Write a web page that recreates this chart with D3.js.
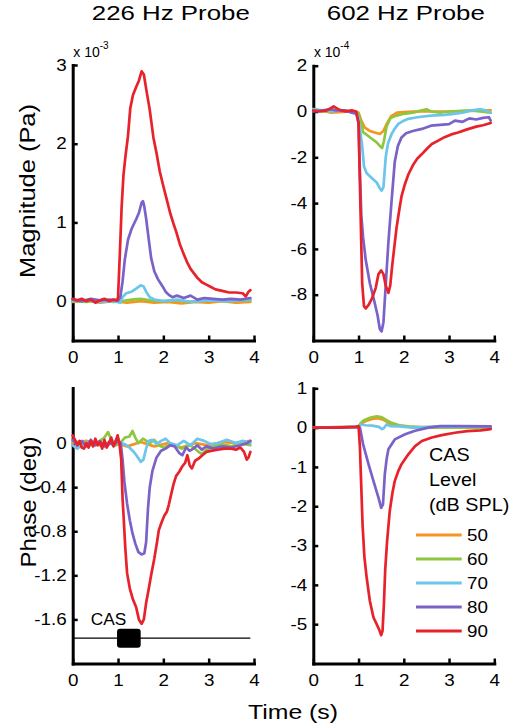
<!DOCTYPE html>
<html><head><meta charset="utf-8">
<script src="https://cdn.jsdelivr.net/npm/d3@7"></script>
<style>
html,body{margin:0;padding:0;background:#fff;}
svg{display:block;font-family:"Liberation Sans",Arial,Helvetica,sans-serif;}
</style></head>
<body>
<svg id="chart" width="511" height="725"></svg>
<script>
// ---------------- DATA ----------------
const levels = ["50", "60", "70", "80", "90"];
const levelColors = ["#f7941d", "#8dc63f", "#6cc5ea", "#7b62c9", "#e8222b"];
const panelTitles = ["226 Hz Probe", "602 Hz Probe"];
const xTicks = [0, 1, 2, 3, 4];
const magTicks226 = [0, 1, 2, 3];
const magTicks602 = [2, 0, -2, -4, -6, -8];
const phaseTicks226 = [0, -0.4, -0.8, -1.2, -1.6];
const phaseTicks602 = [1, 0, -1, -2, -3, -4, -5];
const casStim = [1.0, 1.5]; // CAS on/off time (s)

// 226 Hz magnitude (x 10^-3 Pa), [time, value]
const mag226_50 = [[0,-0.01],[0.3,0.01],[0.6,-0.02],[0.9,0.0],[1.2,-0.02],[1.5,0.0],[1.8,-0.02],[2.1,-0.01],[2.4,-0.03],[2.7,-0.01],[3.0,-0.02],[3.3,0.0],[3.6,-0.02],[3.92,-0.01]];
const mag226_60 = [[0,0.0],[0.3,-0.01],[0.6,0.01],[0.9,-0.01],[1.1,0.0],[1.3,0.02],[1.5,0.03],[1.7,0.01],[2.0,0.0],[2.3,0.01],[2.6,-0.01],[3.0,0.01],[3.4,0.0],[3.92,0.01]];
const mag226_70 = [[0,0.0],[0.3,0.01],[0.6,-0.01],[0.9,0.0],[1.05,-0.02],[1.1,0.05],[1.18,0.1],[1.3,0.12],[1.4,0.16],[1.5,0.2],[1.56,0.19],[1.62,0.12],[1.7,0.05],[1.8,0.02],[2.0,0.0],[2.3,0.02],[2.6,-0.01],[3.0,0.01],[3.4,0.0],[3.92,0.02]];
const mag226_80 = [[0,0.02],[0.2,0.0],[0.4,0.03],[0.6,0.01],[0.8,0.02],[1.0,0.01],[1.05,0.05],[1.1,0.25],[1.15,0.53],[1.22,0.78],[1.3,0.92],[1.4,1.04],[1.46,1.12],[1.52,1.25],[1.55,1.27],[1.58,1.2],[1.62,1.05],[1.67,0.82],[1.73,0.55],[1.8,0.38],[1.88,0.28],[1.98,0.19],[2.05,0.12],[2.12,0.08],[2.2,0.05],[2.3,0.07],[2.45,0.04],[2.6,0.07],[2.75,0.02],[2.9,0.04],[3.1,0.03],[3.3,0.02],[3.5,0.03],[3.7,0.02],[3.92,0.04]];
const mag226_90 = [[0,0.03],[0.1,0.01],[0.2,0.03],[0.3,0.0],[0.4,0.02],[0.5,-0.02],[0.6,0.01],[0.7,0.03],[0.8,0.0],[0.9,0.02],[0.98,0.01],[1.0,0.05],[1.04,0.6],[1.08,1.2],[1.12,1.6],[1.16,1.82],[1.22,2.1],[1.27,2.45],[1.33,2.62],[1.4,2.72],[1.46,2.8],[1.52,2.92],[1.57,2.88],[1.62,2.7],[1.7,2.43],[1.78,2.08],[1.85,1.88],[1.92,1.65],[2.0,1.46],[2.08,1.28],[2.15,1.12],[2.22,0.99],[2.29,0.87],[2.36,0.73],[2.44,0.61],[2.52,0.5],[2.6,0.41],[2.68,0.35],[2.76,0.29],[2.85,0.24],[2.95,0.21],[3.05,0.18],[3.15,0.15],[3.3,0.13],[3.45,0.11],[3.6,0.11],[3.75,0.1],[3.82,0.06],[3.88,0.12],[3.92,0.14]];

// 602 Hz magnitude (x 10^-4 Pa)
const mag602_50 = [[0,0.1],[0.4,-0.05],[0.8,0.0],[1.0,-0.05],[1.06,-0.4],[1.14,-0.7],[1.25,-0.85],[1.36,-0.92],[1.47,-0.98],[1.55,-0.85],[1.62,-0.55],[1.72,-0.2],[1.85,-0.05],[2.2,0.0],[3.0,0.0],[3.92,0.05]];
const mag602_60 = [[0,0.05],[0.3,0.0],[0.6,0.05],[0.9,0.0],[1.0,-0.1],[1.05,-0.4],[1.1,-0.9],[1.2,-1.05],[1.3,-1.2],[1.4,-1.35],[1.47,-1.5],[1.52,-1.6],[1.56,-1.3],[1.62,-0.65],[1.7,-0.3],[1.8,-0.2],[2.0,-0.1],[2.2,-0.05],[2.4,0.05],[2.5,0.1],[2.6,0.0],[2.8,-0.05],[3.0,0.0],[3.5,0.05],[3.92,-0.05]];
const mag602_70 = [[0,0.1],[0.2,0.05],[0.4,0.0],[0.6,0.05],[0.8,0.0],[0.95,-0.05],[1.0,-0.3],[1.04,-0.9],[1.08,-1.5],[1.12,-2.4],[1.18,-2.7],[1.28,-2.88],[1.4,-3.1],[1.47,-3.35],[1.51,-3.46],[1.55,-3.3],[1.6,-2.0],[1.65,-1.4],[1.73,-0.98],[1.8,-0.75],[1.88,-0.54],[2.0,-0.4],[2.1,-0.32],[2.3,-0.25],[2.6,-0.18],[2.9,-0.15],[3.1,-0.1],[3.3,-0.05],[3.5,0.05],[3.7,0.1],[3.8,0.05],[3.92,-0.05]];
const mag602_80 = [[0,0.0],[0.2,0.05],[0.4,0.1],[0.5,0.05],[0.7,0.05],[0.85,-0.05],[0.95,-0.1],[1.0,-0.5],[1.02,-2.0],[1.06,-4.5],[1.1,-5.5],[1.16,-6.5],[1.25,-7.5],[1.35,-8.3],[1.42,-8.9],[1.47,-9.5],[1.51,-9.6],[1.55,-9.2],[1.6,-7.6],[1.66,-5.7],[1.73,-3.9],[1.8,-2.2],[1.87,-1.5],[1.95,-1.13],[2.05,-0.95],[2.2,-0.85],[2.4,-0.76],[2.6,-0.62],[2.8,-0.58],[3.0,-0.55],[3.13,-0.4],[3.3,-0.45],[3.45,-0.3],[3.6,-0.35],[3.75,-0.28],[3.88,-0.25],[3.92,-0.4]];
const mag602_90 = [[0,0.05],[0.15,0.0],[0.3,0.05],[0.45,0.22],[0.55,0.1],[0.7,0.0],[0.85,0.05],[0.95,0.0],[1.0,-0.5],[1.04,-4.0],[1.08,-7.5],[1.12,-8.5],[1.16,-8.6],[1.22,-8.45],[1.3,-8.15],[1.38,-7.7],[1.44,-7.1],[1.5,-6.94],[1.55,-7.1],[1.6,-7.6],[1.66,-7.92],[1.7,-7.6],[1.74,-6.8],[1.78,-6.1],[1.84,-5.07],[1.9,-4.3],[1.95,-3.7],[2.02,-3.2],[2.1,-2.75],[2.2,-2.35],[2.3,-2.05],[2.4,-1.86],[2.5,-1.65],[2.62,-1.42],[2.75,-1.28],[2.9,-1.12],[3.05,-1.0],[3.2,-0.92],[3.4,-0.78],[3.6,-0.66],[3.75,-0.6],[3.92,-0.5]];

// 226 Hz phase (deg)
const ph226_50 = [[0,0.0],[0.3,0.02],[0.6,-0.02],[0.9,0.01],[1.2,-0.03],[1.5,0.01],[1.8,-0.03],[2.1,0.0],[2.4,-0.04],[2.7,0.0],[3.0,-0.02],[3.3,0.01],[3.6,0.0],[3.92,0.02]];
const ph226_60 = [[0,0.02],[0.2,0.0],[0.4,-0.02],[0.6,0.02],[0.7,0.05],[0.78,0.1],[0.85,0.03],[0.95,-0.02],[1.05,0.0],[1.15,0.05],[1.25,0.06],[1.32,0.11],[1.38,0.05],[1.45,0.0],[1.55,0.04],[1.7,0.0],[1.8,0.03],[1.9,-0.02],[2.0,-0.04],[2.2,-0.01],[2.4,-0.05],[2.6,-0.02],[2.75,-0.07],[2.85,-0.1],[2.95,-0.06],[3.1,-0.03],[3.3,-0.01],[3.5,-0.03],[3.7,0.0],[3.92,-0.02]];
const ph226_70 = [[0,-0.02],[0.1,-0.05],[0.2,-0.02],[0.3,0.01],[0.45,-0.02],[0.6,0.0],[0.75,-0.03],[0.9,0.02],[1.0,0.0],[1.15,-0.01],[1.25,-0.04],[1.35,-0.08],[1.42,-0.12],[1.5,-0.17],[1.56,-0.15],[1.62,-0.05],[1.68,0.02],[1.76,0.03],[1.85,-0.01],[1.95,0.02],[2.05,0.04],[2.15,0.0],[2.3,-0.02],[2.45,0.02],[2.6,-0.02],[2.75,0.04],[2.9,0.02],[3.05,-0.01],[3.2,0.0],[3.4,0.03],[3.6,0.0],[3.75,0.02],[3.92,0.0]];
const ph226_80 = [[0,0.03],[0.1,-0.02],[0.2,0.02],[0.3,-0.03],[0.4,0.03],[0.5,-0.02],[0.6,0.02],[0.7,-0.03],[0.8,0.01],[0.9,-0.02],[1.0,0.02],[1.06,0.0],[1.1,-0.15],[1.14,-0.35],[1.2,-0.55],[1.26,-0.7],[1.32,-0.82],[1.38,-0.91],[1.45,-0.99],[1.52,-1.01],[1.58,-1.0],[1.62,-0.9],[1.66,-0.6],[1.7,-0.4],[1.76,-0.25],[1.85,-0.13],[1.95,-0.07],[2.05,-0.05],[2.15,-0.02],[2.25,-0.03],[2.35,-0.09],[2.42,-0.11],[2.5,-0.04],[2.58,-0.07],[2.66,-0.05],[2.75,-0.02],[2.85,-0.06],[2.95,-0.03],[3.1,-0.05],[3.3,-0.03],[3.5,-0.04],[3.7,-0.02],[3.85,0.0],[3.92,0.02]];
const ph226_90 = [[0,0.07],[0.05,0.03],[0.1,-0.02],[0.15,0.02],[0.2,-0.04],[0.25,-0.05],[0.3,0.0],[0.35,-0.04],[0.4,0.02],[0.45,-0.03],[0.5,0.04],[0.55,-0.02],[0.6,0.01],[0.65,-0.05],[0.7,0.03],[0.75,-0.04],[0.8,0.0],[0.85,0.05],[0.9,-0.03],[0.95,0.02],[0.99,0.07],[1.03,0.0],[1.07,-0.15],[1.1,-0.5],[1.13,-0.72],[1.16,-0.95],[1.2,-1.18],[1.26,-1.32],[1.33,-1.42],[1.4,-1.49],[1.46,-1.6],[1.52,-1.64],[1.57,-1.6],[1.62,-1.45],[1.67,-1.34],[1.73,-1.2],[1.8,-1.05],[1.86,-0.9],[1.9,-0.79],[1.96,-0.72],[2.02,-0.66],[2.08,-0.62],[2.12,-0.56],[2.17,-0.47],[2.22,-0.38],[2.28,-0.3],[2.35,-0.26],[2.42,-0.21],[2.48,-0.18],[2.53,-0.11],[2.58,-0.2],[2.63,-0.23],[2.7,-0.16],[2.78,-0.14],[2.86,-0.11],[2.95,-0.08],[3.05,-0.07],[3.2,-0.06],[3.35,-0.05],[3.5,-0.05],[3.6,-0.06],[3.7,-0.04],[3.78,-0.08],[3.84,-0.15],[3.88,-0.13],[3.92,-0.08]];

// 602 Hz phase (deg)
const ph602_50 = [[0,0],[1.0,0.02],[1.06,0.1],[1.15,0.16],[1.3,0.22],[1.42,0.24],[1.55,0.2],[1.7,0.1],[1.9,0.05],[2.2,0.01],[3.92,0.0]];
const ph602_60 = [[0,0],[1.0,0.02],[1.05,0.12],[1.12,0.19],[1.25,0.25],[1.4,0.29],[1.5,0.27],[1.6,0.2],[1.73,0.12],[1.9,0.06],[2.1,0.03],[2.5,0.0],[3.92,0.0]];
const ph602_70 = [[0,0],[1.0,0.02],[1.05,0.08],[1.15,0.06],[1.3,0.05],[1.45,0.02],[1.52,-0.04],[1.56,-0.01],[1.62,0.08],[1.7,0.04],[1.9,0.03],[2.2,0.0],[2.8,0.03],[3.92,0.02]];
const ph602_80 = [[0,0],[0.5,0],[1.0,0.02],[1.03,0],[1.1,-0.42],[1.22,-0.93],[1.33,-1.36],[1.44,-1.78],[1.5,-2.04],[1.54,-1.95],[1.58,-1.19],[1.62,-0.8],[1.66,-0.55],[1.8,-0.3],[2.03,-0.17],[2.25,-0.08],[2.54,0.0],[2.8,0.04],[3.2,0.04],[3.92,0.03]];
const ph602_90 = [[0,0],[0.5,0],[0.95,0.02],[1.0,0.04],[1.03,-0.5],[1.06,-1.5],[1.09,-2.5],[1.13,-3.3],[1.18,-3.82],[1.25,-4.41],[1.33,-4.83],[1.4,-5.0],[1.46,-5.15],[1.5,-5.28],[1.53,-5.17],[1.56,-4.5],[1.59,-3.6],[1.63,-2.9],[1.69,-2.12],[1.75,-1.65],[1.8,-1.36],[1.88,-1.1],[1.95,-0.93],[2.1,-0.68],[2.25,-0.47],[2.4,-0.34],[2.62,-0.25],[2.84,-0.19],[3.13,-0.13],[3.4,-0.09],[3.7,-0.07],[3.92,-0.04]];

// ---------------- DRAWING ----------------
const svg = d3.select("#chart");
const FONT = '"Liberation Sans",Arial,Helvetica,sans-serif';

function stretch(sel, f) {
  sel.each(function () {
    const w = this.getComputedTextLength();
    d3.select(this).attr("textLength", w * f).attr("lengthAdjust", "spacingAndGlyphs");
  });
}

const panels = [
  { left: 72.7, right: 254, top: 65, bottom: 340.5, domain: [-0.5, 3], ticks: magTicks226,
    series: [mag226_50, mag226_60, mag226_70, mag226_80, mag226_90], exp: "-3" },
  { left: 313.3, right: 494.3, top: 65.7, bottom: 340.5, domain: [-10, 2], ticks: magTicks602,
    series: [mag602_50, mag602_60, mag602_70, mag602_80, mag602_90], exp: "-4" },
  { left: 72.7, right: 254, top: 388, bottom: 663.5, domain: [-2, 0.5], ticks: phaseTicks226,
    series: [ph226_50, ph226_60, ph226_70, ph226_80, ph226_90], cas: true },
  { left: 313.3, right: 494.3, top: 388.3, bottom: 663.5, domain: [-6, 1], ticks: phaseTicks602,
    series: [ph602_50, ph602_60, ph602_70, ph602_80, ph602_90], legend: true }
];

panels.forEach(p => {
  const x = d3.scaleLinear().domain([0, 4]).range([p.left, p.right]);
  const y = d3.scaleLinear().domain(p.domain).range([p.bottom, p.top]);
  const g = svg.append("g");

  const xa = g.append("g").attr("transform", `translate(0,${p.bottom})`)
    .call(d3.axisBottom(x).tickValues(xTicks).tickSizeInner(-5).tickSizeOuter(0).tickPadding(11).tickFormat(d => String(d)));
  const ya = g.append("g").attr("transform", `translate(${p.left},0)`)
    .call(d3.axisLeft(y).tickValues(p.ticks).tickSizeInner(-5).tickSizeOuter(0).tickPadding(6).tickFormat(d => String(d)));

  [xa, ya].forEach(a => {
    a.select(".domain").attr("stroke", "#000").attr("stroke-width", 3).attr("stroke-linecap", "square");
    a.selectAll(".tick line").attr("stroke", "#000").attr("stroke-width", 2.5);
    a.selectAll(".tick text").attr("font-family", FONT).attr("font-size", 16.5).attr("fill", "#000");
    stretch(a.selectAll(".tick text"), 1.14);
  });

  const line = d3.line().x(d => x(d[0])).y(d => y(d[1]));
  p.series.forEach((s, i) => {
    g.append("path").datum(s).attr("d", line)
      .attr("fill", "none").attr("stroke", levelColors[i]).attr("stroke-width", 2.7)
      .attr("stroke-linejoin", "round").attr("stroke-linecap", "round");
  });

  if (p.exp) {
    const t = g.append("text").attr("x", p.left + 0.6).attr("y", 56.7)
      .attr("font-family", FONT).attr("font-size", 14).attr("fill", "#000");
    t.append("tspan").text("x 10");
    t.append("tspan").attr("font-size", 10).attr("dy", -8).text(p.exp);
  }

  if (p.cas) {
    const yc = y(-1.77);
    g.append("line").attr("x1", x(0)).attr("x2", x(3.92)).attr("y1", yc).attr("y2", yc)
      .attr("stroke", "#000").attr("stroke-width", 1.3);
    g.append("rect").attr("x", x(casStim[0]) - 1).attr("width", x(casStim[1]) - x(casStim[0]) + 1)
      .attr("y", yc - 9.5).attr("height", 19).attr("rx", 3).attr("fill", "#000");
    const ct = g.append("text").attr("x", 90.7).attr("y", 625).attr("font-family", FONT)
      .attr("font-size", 16).attr("fill", "#000").text("CAS");
    stretch(ct, 1.08);
  }

  if (p.legend) {
    const lx0 = 416, lx1 = 461.7;
    ["CAS", "Level", "(dB SPL)"].forEach((s, i) => {
      const t = g.append("text").attr("x", 429).attr("y", 460.7 + i * 25)
        .attr("font-family", FONT).attr("font-size", 17.5).attr("fill", "#000").text(s);
      stretch(t, 1.13);
    });
    levels.forEach((lv, i) => {
      const ly = 535 + i * 24;
      g.append("line").attr("x1", lx0).attr("x2", lx1).attr("y1", ly).attr("y2", ly)
        .attr("stroke", levelColors[i]).attr("stroke-width", 2.8);
      const t = g.append("text").attr("x", 467).attr("y", ly + 6.3)
        .attr("font-family", FONT).attr("font-size", 16.5).attr("fill", "#000").text(lv);
      stretch(t, 1.14);
    });
  }
});

const titleX = [170.8, 405.8];
panelTitles.forEach((s, i) => {
  svg.append("text").attr("x", titleX[i]).attr("y", 19.5).attr("text-anchor", "middle")
    .attr("font-family", FONT).attr("font-size", 20).attr("fill", "#000")
    .attr("textLength", 158).attr("lengthAdjust", "spacingAndGlyphs").text(s);
});

svg.append("text").attr("transform", "translate(34.5,191) rotate(-90)").attr("text-anchor", "middle")
  .attr("font-family", FONT).attr("font-size", 22.5).attr("fill", "#000")
  .attr("textLength", 174).attr("lengthAdjust", "spacingAndGlyphs").text("Magnitude (Pa)");
svg.append("text").attr("transform", "translate(36,502) rotate(-90)").attr("text-anchor", "middle")
  .attr("font-family", FONT).attr("font-size", 22).attr("fill", "#000")
  .attr("textLength", 131).attr("lengthAdjust", "spacingAndGlyphs").text("Phase (deg)");

svg.append("text").attr("x", 293).attr("y", 719).attr("text-anchor", "middle")
  .attr("font-family", FONT).attr("font-size", 21).attr("fill", "#000")
  .attr("textLength", 90).attr("lengthAdjust", "spacingAndGlyphs").text("Time (s)");
</script>
</body></html>
